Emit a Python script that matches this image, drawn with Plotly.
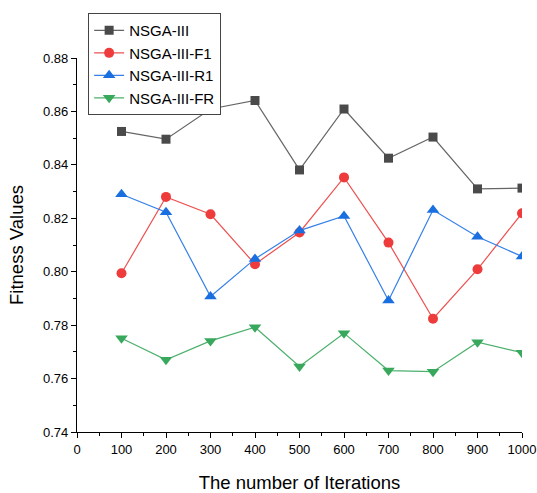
import plotly.graph_objects as go

iterations = [100, 200, 300, 400, 500, 600, 700, 800, 900, 1000]
nsga3 = [0.8525, 0.8496, 0.8609, 0.8641, 0.8381, 0.8609, 0.8425, 0.8504, 0.8310, 0.8313]
nsga3_f1 = [0.7994, 0.8280, 0.8215, 0.8028, 0.8147, 0.8353, 0.8109, 0.7824, 0.8009, 0.8219]
nsga3_r1 = [0.8290, 0.8223, 0.7907, 0.8048, 0.8154, 0.8209, 0.7892, 0.8231, 0.8131, 0.8057]
nsga3_fr = [0.7751, 0.7670, 0.7741, 0.7792, 0.7645, 0.7770, 0.7630, 0.7626, 0.7736, 0.7697]

series = [
    ("NSGA-III", nsga3, "#4a4a4a", "#666666", "square", 9),
    ("NSGA-III-F1", nsga3_f1, "#ee3b3b", "#ee5050", "circle", 10),
    ("NSGA-III-R1", nsga3_r1, "#1a6fe0", "#3580e8", "triangle-up", 11),
    ("NSGA-III-FR", nsga3_fr, "#38a85c", "#4cb06c", "triangle-down", 11),
]

fig = go.Figure()
for name, vals, mc, lc, sym, sz in series:
    fig.add_trace(go.Scatter(
        x=iterations, y=vals, name=name, mode="lines+markers",
        line=dict(color=lc, width=1.2),
        marker=dict(color=mc, symbol=sym, size=sz, line=dict(width=0)),
    ))

axis_common = dict(
    showline=True, linecolor="black", linewidth=1.2, mirror=False,
    ticks="outside", ticklen=5, tickwidth=1.2, tickcolor="black",
    showgrid=False, zeroline=False, automargin=False,
    tickfont=dict(family="Liberation Sans, Arial", size=13, color="black"),
)

fig.update_xaxes(
    range=[0, 1000], tick0=0, dtick=100,
    minor=dict(ticks="outside", ticklen=3, tickcolor="black", tickwidth=1, dtick=50),
    title=dict(text="The number of Iterations", font=dict(family="Liberation Sans, Arial", size=18.5, color="black"), standoff=20),
    **axis_common,
)
fig.update_yaxes(
    range=[0.74, 0.88], tick0=0.74, dtick=0.02, tickformat=".2f",
    minor=dict(ticks="outside", ticklen=3, tickcolor="black", tickwidth=1, dtick=0.01),
    title=dict(text="Fitness Values", font=dict(family="Liberation Sans, Arial", size=18.5, color="black"), standoff=14),
    **axis_common,
)

fig.update_layout(
    width=537, height=493,
    margin=dict(l=77, r=15, t=58, b=61),
    plot_bgcolor="white", paper_bgcolor="white",
    legend=dict(
        x=0.025, y=1.12, xanchor="left", yanchor="top",
        bordercolor="#444444", borderwidth=1, bgcolor="white",
        font=dict(family="Liberation Sans, Arial", size=15, color="black"),
        tracegroupgap=0, itemwidth=30,
    ),
    showlegend=True,
)

fig.write_html("out.html")
